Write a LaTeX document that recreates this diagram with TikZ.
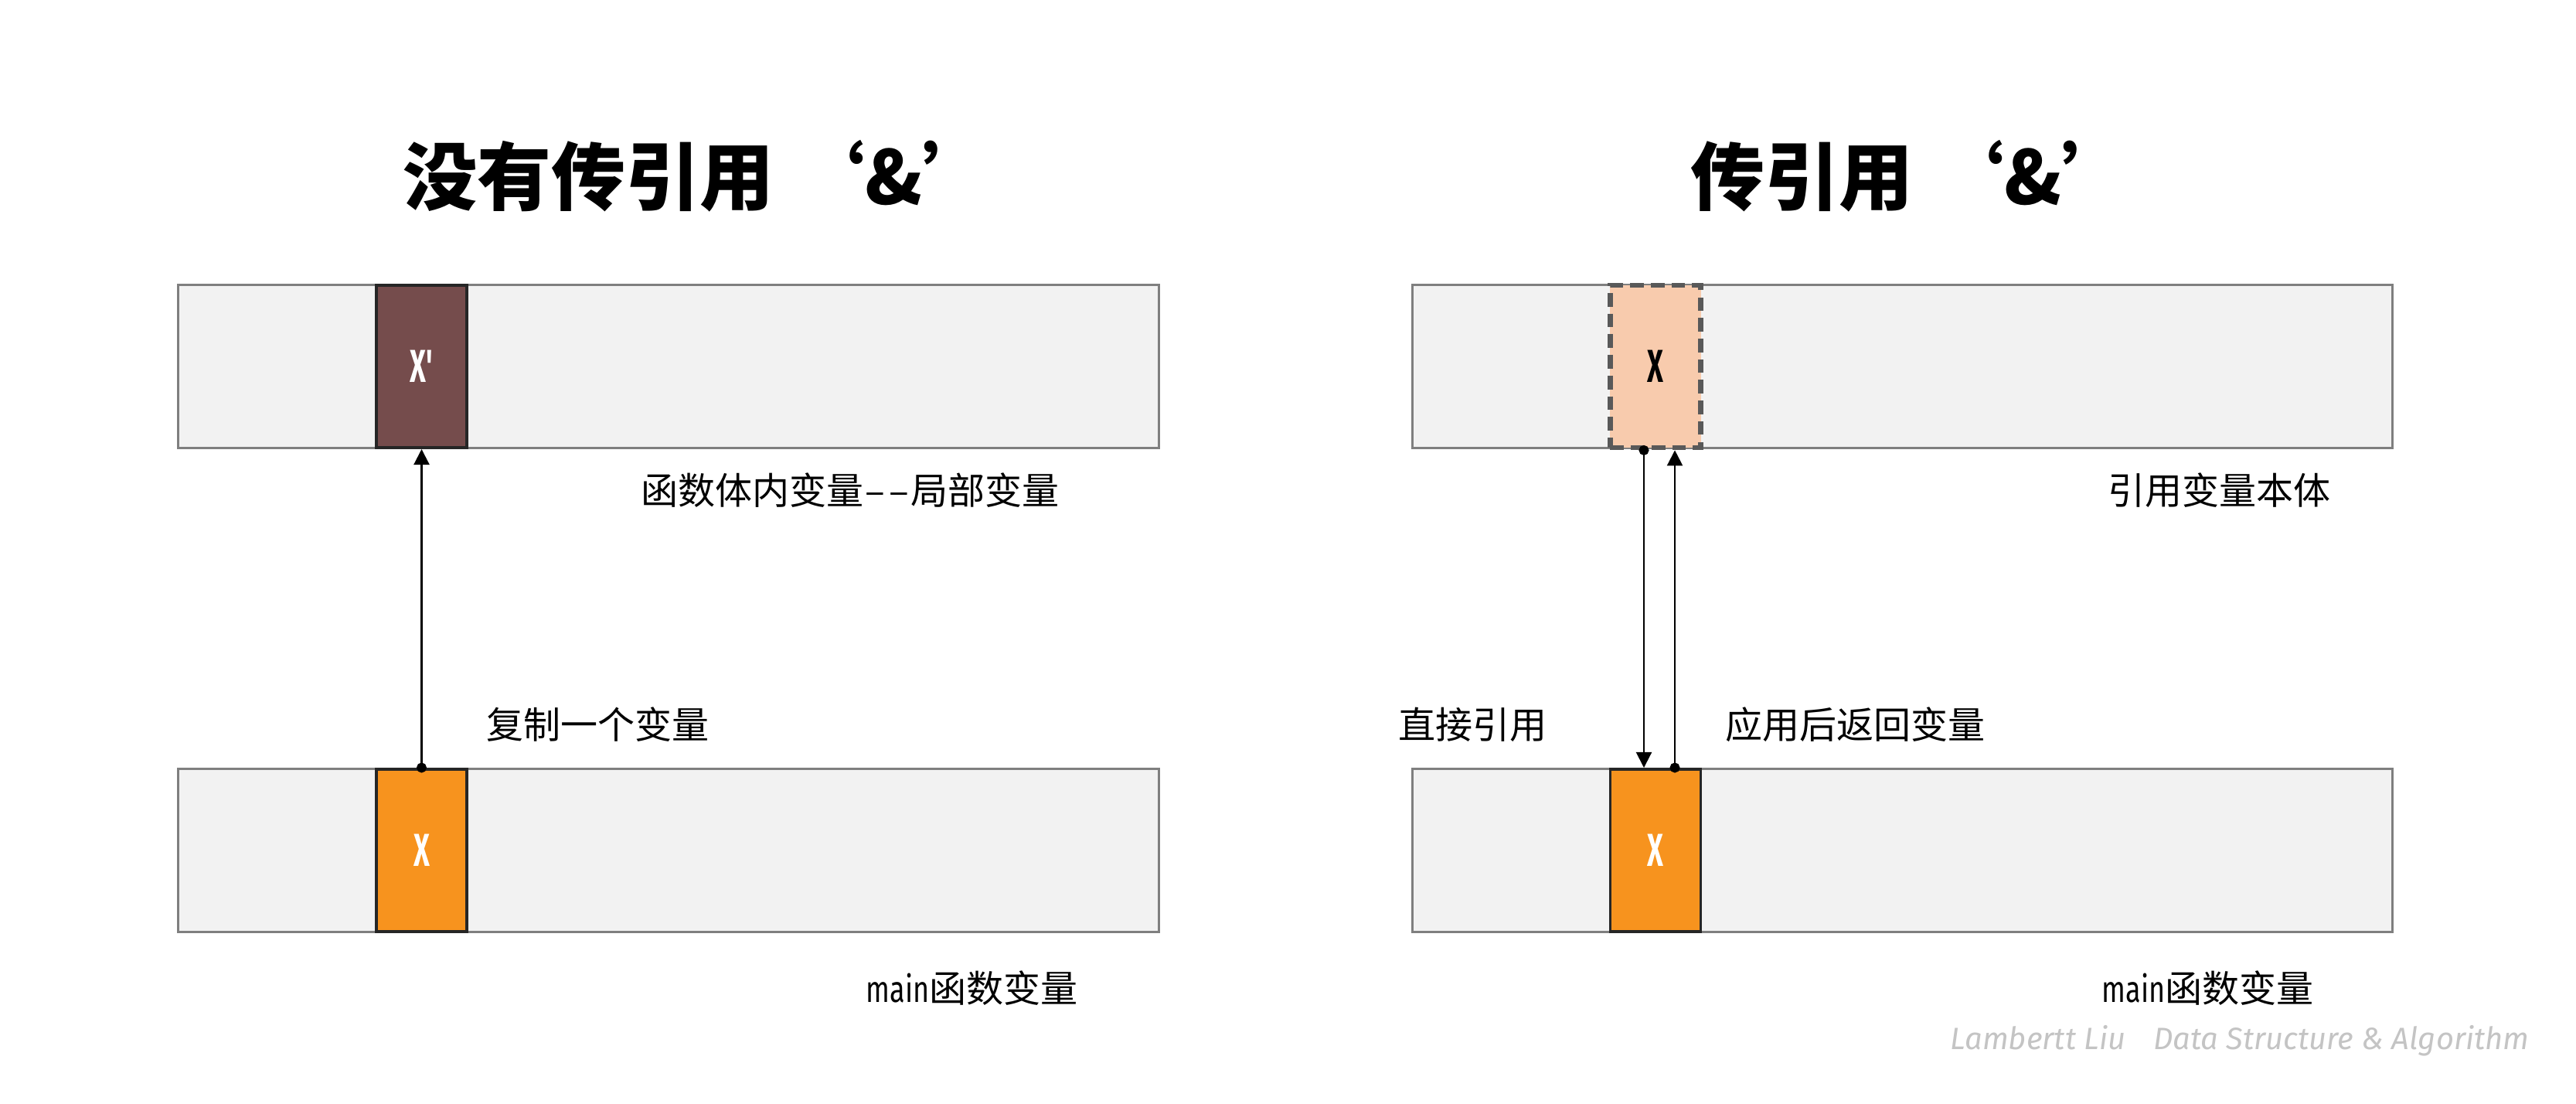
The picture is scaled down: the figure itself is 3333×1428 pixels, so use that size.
\documentclass[tikz,border=0pt]{standalone}
\usepackage{fontspec}
\newfontfamily\cjk{Noto Sans CJK SC}
\newfontfamily\latinc{Fira Sans}[Ligatures=TeXOff]
\newfontfamily\footfont{Fira Sans}
\usetikzlibrary{arrows.meta}
\definecolor{barfill}{HTML}{F2F2F2}
\definecolor{bardraw}{HTML}{7F7F7F}
\definecolor{brownbox}{HTML}{754C4C}
\definecolor{orangebox}{HTML}{F7931E}
\definecolor{peachbox}{HTML}{F8CBAD}
\definecolor{dashdraw}{HTML}{595959}
\definecolor{boxdraw}{HTML}{262626}
\definecolor{footgray}{HTML}{C4C4C4}
\newcommand{\mainword}{{\latinc\scalebox{0.75}[1]{main}}}
\begin{document}
\begin{tikzpicture}[x=0.01cm,y=-0.01cm,
  bar/.style={draw=bardraw,fill=barfill,line width=0.85pt,minimum width=12.68cm,minimum height=2.10cm,inner sep=0},
  cell/.style={draw=boxdraw,line width=1.1pt,minimum width=1.17cm,minimum height=2.10cm,inner sep=0,
     font=\latinc\bfseries\fontsize{17}{20}\selectfont},
  refcell/.style={draw=dashdraw,fill=peachbox,line width=1.9pt,dash pattern=on 5pt off 2.6pt,
     minimum width=1.17cm,minimum height=2.10cm,inner sep=0,font=\latinc\bfseries\fontsize{17}{20}\selectfont},
  lbl/.style={inner sep=0,anchor=west,font=\cjk\fontsize{13.66}{16}\selectfont},
  ttl/.style={inner sep=0,anchor=west,font=\cjk\bfseries\fontsize{27.3}{30}\selectfont},
  conn/.style={line width=0.6pt,{Circle[length=3.7pt]}-{Triangle[length=5.7pt,width=5.7pt]},shorten <=-1.85pt}
]
\useasboundingbox[fill=white] (0,0) rectangle (3333,1428);

% titles
\node[ttl] (t1) at (521,228) {没有传引用 ‘\&’};
\node[ttl] (t2) at (2187,228) {传引用 ‘\&’};

% left side
\node[bar] (lb1) at (865,474) {};
\node[bar] (lb2) at (865,1100) {};
\node[cell,fill=brownbox,text=white] (lx1) at (545.5,474) {\scalebox{0.6}[1]{X'}};
\node[cell,fill=orangebox,text=white] (lx2) at (545.5,1100) {\scalebox{0.6}[1]{X}};
\draw[conn] (lx2.north) -- (lx1.south);

% right side
\node[bar] (rb1) at (2461.5,474) {};
\node[bar] (rb2) at (2461.5,1100) {};
\node[refcell,text=black] (rx1) at (2142,474) {\scalebox{0.6}[1]{X}};
\node[cell,fill=orangebox,text=white] (rx2) at (2142,1100) {\scalebox{0.6}[1]{X}};
\draw[conn] ([xshift=-0.15cm]rx1.south) -- ([xshift=-0.15cm]rx2.north);
\draw[conn] ([xshift=0.25cm]rx2.north) -- ([xshift=0.25cm]rx1.south);

% labels
\node[lbl] (l1) at (829,634) {函数体内变量\hspace{0.5pt}–\hspace{1.5pt}–\hspace{0.5pt}局部变量};
\node[lbl] (l2) at (629,937) {复制一个变量};
\node[lbl] (l3) at (1120,1278) {\mainword 函数变量};
\node[lbl] (r1) at (2727,634) {引用变量本体};
\node[lbl] (r2) at (1809,937) {直接引用};
\node[lbl] (r3) at (2232,937) {应用后返回变量};
\node[lbl] (r4) at (2719,1278) {\mainword 函数变量};

% footer
\node[inner sep=0,anchor=west,text=footgray,font=\footfont\itshape\fontsize{11.35}{13}\selectfont] (ft) at (2523,1346)
  {Lambertt Liu\hspace{0.9em}Data Structure \& Algorithm};
\end{tikzpicture}
\end{document}
